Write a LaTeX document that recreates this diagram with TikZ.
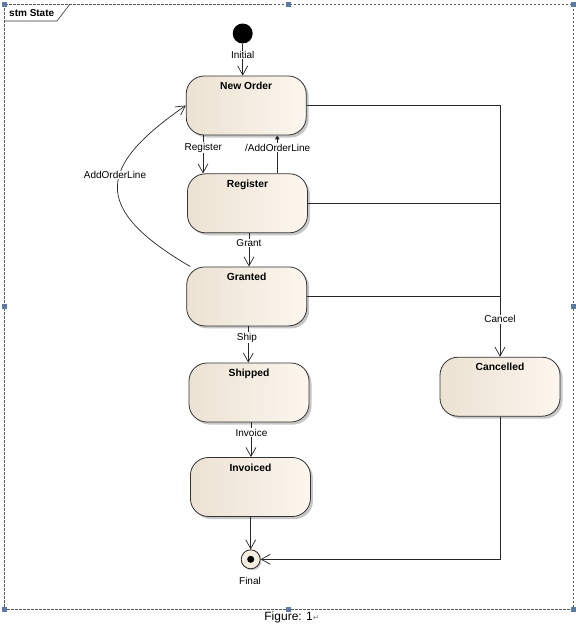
\documentclass[tikz,border=0pt]{standalone}
\usepackage{fontspec}
\setmainfont{Liberation Sans}
\newfontfamily\djv{DejaVu Sans}
\usetikzlibrary{arrows.meta,shadows,calc}
\definecolor{stl}{HTML}{ECE2D3}
\definecolor{str}{HTML}{FCF6EE}
\definecolor{hdl}{HTML}{5A7BA6}
\definecolor{fincol}{HTML}{F3ECDF}
\begin{document}
\begin{tikzpicture}[x=1pt,y=-1pt,
  st/.style={draw=black!80, line width=0.8pt, rounded corners=18pt,
    minimum width=120pt, minimum height=59pt, inner sep=0pt,
    left color=stl, right color=str,
    drop shadow={shadow xshift=2.5pt,shadow yshift=-2.5pt,fill=black!40,opacity=0.55}},
  stname/.style={font=\bfseries\fontsize{10.3}{12}\selectfont, inner sep=0pt, anchor=north, yshift=-6.5pt},
  lbl/.style={font=\fontsize{10}{11}\selectfont, fill=white, inner sep=0.6pt},
  tr/.style={draw=black!85, line width=0.7pt, -{Straight Barb[length=9pt,width=10pt]}},
  ln/.style={draw=black!85, line width=0.7pt},
  handle/.style={fill=hdl, draw=none, minimum size=5pt, inner sep=0pt}
]
\useasboundingbox (0,0) rectangle (576,625);
% frame
\draw[black!65, line width=0.6pt, dash pattern=on 2.5pt off 1.5pt] (4,4) rectangle (573,609);
\draw[black!80, line width=0.6pt] (4,21) -- (57,21) -- (70,4);
\node[font=\bfseries\fontsize{10}{11}\selectfont, anchor=west, inner sep=0pt] (ttl) at (9,13) {stm State};
\foreach \hx/\hy [count=\i] in {4/4,288/4,573/4,4/306,573/306,4/609,288/609,573/609}
  \node[handle] (h\i) at (\hx,\hy) {};
% states
\node[st, label={[stname]north:New Order}] (new) at (246.2,105.5) {};
\node[st, label={[stname]north:Register}] (reg) at (247.5,203.3) {};
\node[st, label={[stname]north:Granted}] (gra) at (246.7,296.4) {};
\node[st, label={[stname]north:Shipped}] (shi) at (249,392.5) {};
\node[st, label={[stname]north:Invoiced}] (inv) at (250.4,487) {};
\node[st, label={[stname]north:Cancelled}] (can) at (500,386.7) {};
% pseudo states
\node[circle, fill=black, minimum size=20pt, inner sep=0pt] (ini) at (242.7,33.5) {};
\node[circle, draw=black!85, line width=0.8pt, fill=fincol, minimum size=19pt, inner sep=0pt,
  drop shadow={shadow xshift=1.5pt,shadow yshift=-1.5pt,fill=black!40,opacity=0.5}] (fin) at (250.7,559.3) {};
\node[circle, fill=black, minimum size=7pt, inner sep=0pt] (find) at (fin) {};
% transitions
\draw[tr] (ini.south) -- (ini.south |- new.north);
\draw[tr] ([xshift=-43.2pt]new.south) -- ([xshift=-43.2pt]new.south |- reg.north);
\draw[ln, -{Triangle[length=4pt,width=4.5pt]}] ([xshift=29.8pt]reg.north) -- ([xshift=29.8pt]reg.north |- new.south);
\draw[tr] ([xshift=1.5pt]reg.south) -- ([xshift=1.5pt]reg.south |- gra.north);
\draw[tr] ([xshift=1.6pt]gra.south) -- ([xshift=1.6pt]gra.south |- shi.north);
\draw[tr] ([xshift=2pt]shi.south) -- ([xshift=2pt]shi.south |- inv.north);
\draw[tr] (inv.south -| fin.north) -- (fin.north);
\draw[tr] ([xshift=4pt]gra.north west) .. controls (88,207) and (100,165) .. (new.west);
\draw[tr] (new.east) -| (can.north);
\draw[ln] (reg.east) -- (reg.east -| can.north);
\draw[ln] (gra.east) -- (gra.east -| can.north);
\draw[tr] (can.south) |- (fin.east);
% labels
\node[lbl] (lini) at (242.7,55) {Initial};
\node[lbl] (lreg) at (203.3,147.5) {Register};
\node[lbl] (ladd) at (277.7,147.5) {/AddOrderLine};
\node[lbl] (lgra) at (249,242.7) {Grant};
\node[lbl] (lshi) at (247,337.7) {Ship};
\node[lbl] (linv) at (251.5,432.7) {Invoice};
\node[lbl] (laol) at (115,175) {AddOrderLine};
\node[lbl] (lcan) at (500,319.3) {Cancel};
\node[lbl] (lfin) at (250,581) {Final};
\node[font=\fontsize{12}{14}\selectfont, inner sep=0pt] (cap) at (292,617.5) {Figure: 1{\djv\color{black!50}\fontsize{8}{8}\selectfont ↵}};
\end{tikzpicture}
\end{document}
